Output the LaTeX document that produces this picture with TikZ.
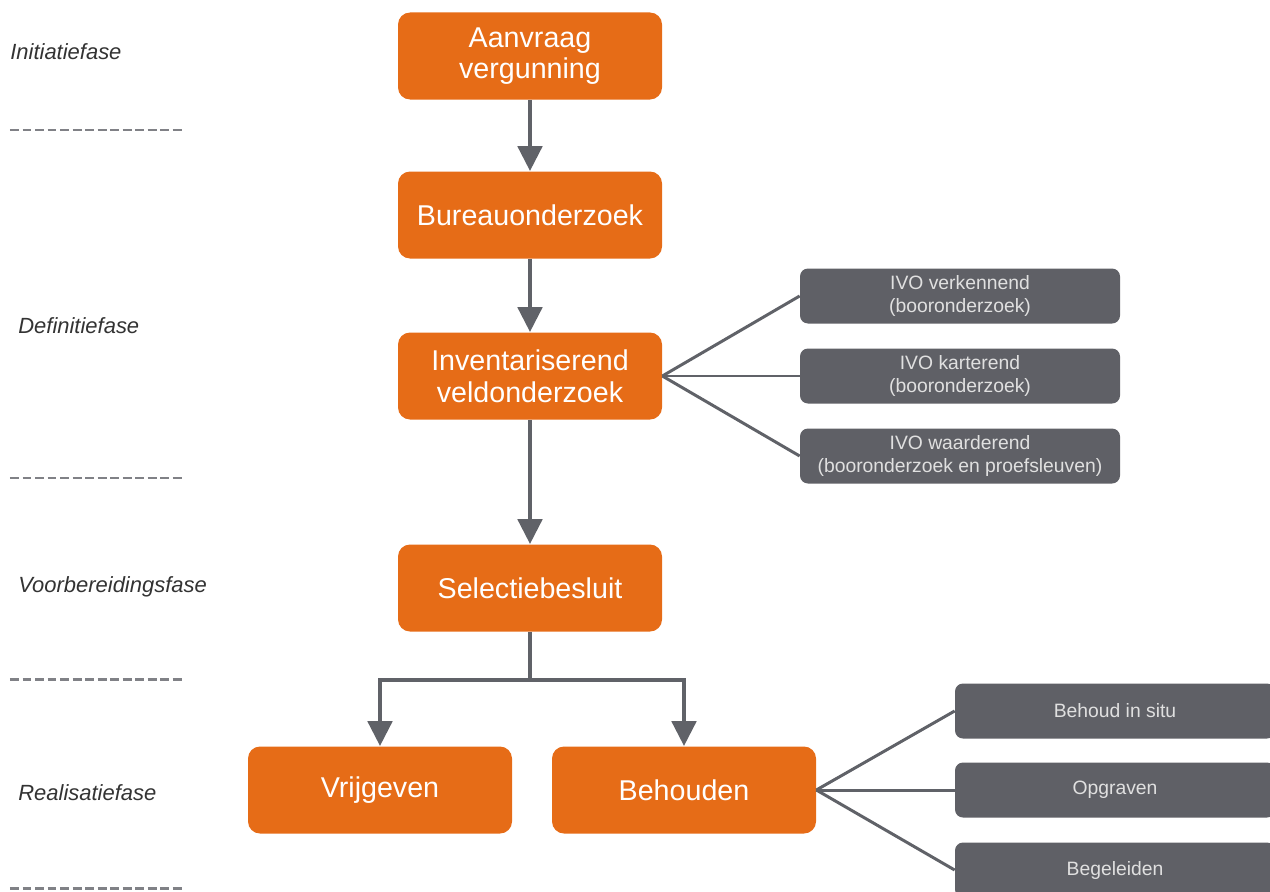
\documentclass[tikz,border=0pt]{standalone}
\usepackage{fontspec}
\setmainfont{Liberation Sans}
\usetikzlibrary{arrows.meta}

\definecolor{fase}{HTML}{E66C17}
\definecolor{donker}{HTML}{5F6066}
\definecolor{lijn}{HTML}{606268}

\tikzset{
    stap/.style={fill=fase, text=white, rounded corners=0.24cm, minimum width=5.28cm,
        minimum height=1.74cm, align=center, font=\fontsize{16.3}{18}\selectfont},
    optie/.style={fill=donker, text=white!88!black, rounded corners=0.16cm, minimum width=6.4cm,
        minimum height=1.1cm, align=center, font=\fontsize{11}{13}\selectfont},
    pijl/.style={draw=lijn, line width=2.8pt, -{Triangle[width=0.48cm,length=0.5cm]}},
    tak/.style={draw=lijn, line width=1.7pt},
    faselabel/.style={anchor=west, inner sep=0pt, text=black!80, font=\fontsize{12.5}{14}\selectfont\itshape},
    scheiding/.style={draw=lijn!80, line width=1.7pt, dash pattern=on 0.18cm off 0.07cm}
}

\begin{document}
\begin{tikzpicture}
        \useasboundingbox (0,0) rectangle (25.4,-17.84);

        % Fasen links
        \node[faselabel] (initiatie) at (0.2,-1.04) {Initiatiefase};
        \node[faselabel] (definitie) at (0.36,-6.52) {Definitiefase};
        \node[faselabel] (voorbereiding) at (0.36,-11.74) {Voorbereidingsfase};
        \node[faselabel] (realisatie) at (0.36,-15.86) {Realisatiefase};

        \draw[scheiding] (0.2,-2.6) -- (3.66,-2.6);
        \draw[scheiding] (0.2,-9.56) -- (3.66,-9.56);
        \draw[scheiding] (0.2,-13.58) -- (3.66,-13.58);
        \draw[scheiding] (0.2,-17.76) -- (3.66,-17.76);

        % Hoofdstappen
        \node[stap] (aanvraag) at (10.6,-1.12) {Aanvraag\\vergunning};
        \node[stap] (bureau) at (10.6,-4.3) {Bureauonderzoek};
        \node[stap] (ivo) at (10.6,-7.52) {Inventariserend\\veldonderzoek};
        \node[stap] (selectie) at (10.6,-11.76) {Selectiebesluit};
        \node[stap] (vrijgeven) at (7.6,-15.8) {Vrijgeven};
        \node[stap] (behouden) at (13.68,-15.8) {Behouden};

        % Varianten IVO
        \node[optie] (verkennend) at (19.2,-5.92) {IVO verkennend\\(booronderzoek)};
        \node[optie] (karterend) at (19.2,-7.52) {IVO karterend\\(booronderzoek)};
        \node[optie] (waarderend) at (19.2,-9.12) {IVO waarderend\\(booronderzoek en proefsleuven)};

        % Varianten behouden
        \node[optie] (insitu) at (22.3,-14.22) {Behoud in situ};
        \node[optie] (opgraven) at (22.3,-15.8) {Opgraven};
        \node[optie] (begeleiden) at (22.3,-17.4) {Begeleiden};

        % Pijlen
        \draw[pijl] (aanvraag) -- (bureau);
        \draw[pijl] (bureau) -- (ivo);
        \draw[pijl] (ivo) -- (selectie);
        \coordinate (splitsing) at (10.6,-13.6);
        \draw[pijl] (selectie.south) -- (splitsing) -| (vrijgeven.north);
        \draw[pijl] (splitsing) -| (behouden.north);

        % Vertakkingen
        \draw[tak] (ivo.east) -- (verkennend.west);
        \draw[tak] (ivo.east) -- (karterend.west);
        \draw[tak] (ivo.east) -- (waarderend.west);
        \draw[tak] (behouden.east) -- (insitu.west);
        \draw[tak] (behouden.east) -- (opgraven.west);
        \draw[tak] (behouden.east) -- (begeleiden.west);
    \end{tikzpicture}
\end{document}
